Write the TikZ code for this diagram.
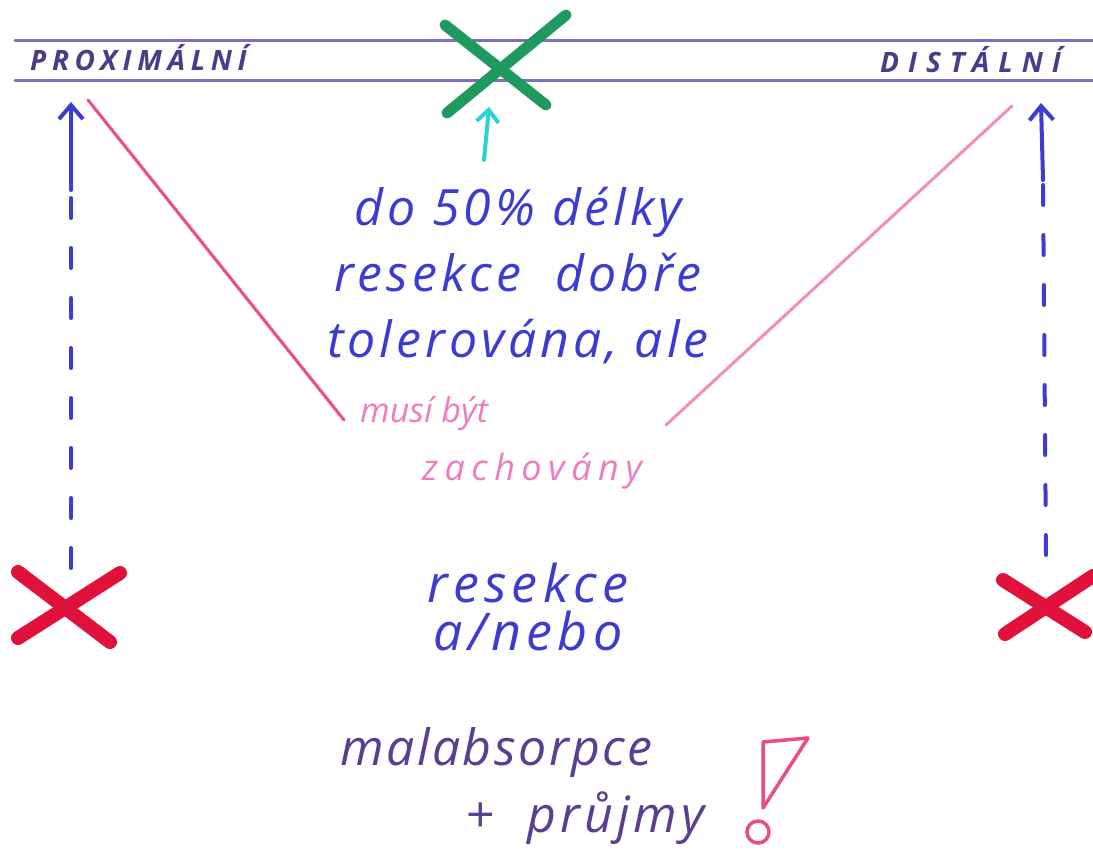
\documentclass[tikz,border=0pt]{standalone}
\usepackage{fontspec}
\setmainfont{Open Sans}
\usetikzlibrary{arrows.meta}
\definecolor{rulepurple}{HTML}{7A70BE}
\definecolor{labelpurple}{HTML}{4A3C86}
\definecolor{pengreen}{HTML}{1E9A5E}
\definecolor{pencyan}{HTML}{2CD2D6}
\definecolor{penblue}{HTML}{3C3CD2}
\definecolor{penred}{HTML}{E0123C}
\definecolor{penpink}{HTML}{EC4C86}
\definecolor{lightpink}{HTML}{F48CBC}
\definecolor{textpink}{HTML}{F07CC0}
\definecolor{textpurple}{HTML}{5A3E92}
\tikzset{
  rule/.style={draw=rulepurple, line width=3pt, line cap=round},
  caplabel/.style={font=\fontsize{28}{30}\selectfont\bfseries\itshape\addfontfeature{LetterSpace=#1}, text=labelpurple, inner sep=0pt, anchor=base west},
  bigcross/.style={line width=#1, line cap=round},
  dashshaft/.style={draw=penblue, line width=4pt, line cap=round, dash pattern=on 20pt off 30pt},
  solidshaft/.style={draw=penblue, line width=4pt, line cap=round, -{Straight Barb[length=14pt,width=24pt,line width=4pt]}},
  pinkline/.style={line width=3pt, line cap=round},
  handtext/.style={inner sep=0pt, align=center},
}
\begin{document}
\begin{tikzpicture}[x=1pt,y=-1pt]
\useasboundingbox (0,0) rectangle (1093,857);
\fill[white] (0,0) rectangle (1093,857);

% horizontal rules
\coordinate (r1a) at (15,40);  \coordinate (r1b) at (1093,40);
\coordinate (r2a) at (15,80);  \coordinate (r2b) at (1093,80);
\draw[rule] (r1a) -- (r1b);
\draw[rule] (r2a) -- (r2b);

% end labels
\node[caplabel=20] (prox) at (30,70) {PROXIMÁLNÍ};
\node[caplabel=32] (dist) at (880,72) {DISTÁLNÍ};

% green cross
\coordinate (g1a) at (445,25); \coordinate (g1b) at (546,105);
\coordinate (g2a) at (566,15); \coordinate (g2b) at (447,113);
\draw[pengreen, bigcross=11pt] (g1a) -- (g1b);
\draw[pengreen, bigcross=11pt] (g2a) -- (g2b);

% cyan arrow
\coordinate (cyanfoot) at (484,160);
\coordinate (cyantip) at (489,107);
\draw[pencyan, line width=4pt, line cap=round, -{Straight Barb[length=12pt,width=22pt,line width=4pt]}] (cyanfoot) -- (cyantip);

% blue text block
\node[handtext, text=penblue, font=\fontsize{50}{66}\selectfont\itshape\addfontfeature{LetterSpace=8}] (block) at (518,276) {do 50\% délky\\resekce\ \ dobře\\tolerována, ale};

% pink text
\node[handtext, text=textpink, font=\fontsize{34}{40}\selectfont\itshape, anchor=base west] (musi) at (360,422) {musí být};
\node[handtext, text=textpink, font=\fontsize{36}{40}\selectfont\itshape\addfontfeature{LetterSpace=18}, anchor=base west] (zach) at (422,480) {zachovány};

% pink lines
\coordinate (pl1) at (88,100);  \coordinate (pl2) at (344,420);
\coordinate (pr1) at (1012,106); \coordinate (pr2) at (666,425);
\draw[penpink, pinkline] (pl1) -- (pl2);
\draw[lightpink, pinkline] (pr1) -- (pr2);

% left dashed arrow and red cross
\coordinate (lbase) at (71,568);
\coordinate (lmid) at (71,190);
\coordinate (ltip) at (71,102);
\draw[dashshaft] (lbase) -- (lmid);
\draw[solidshaft] (lmid) -- (ltip);
\coordinate (lx1a) at (18,572); \coordinate (lx1b) at (110,642);
\coordinate (lx2a) at (120,573); \coordinate (lx2b) at (18,638);
\draw[penred, bigcross=14pt] (lx1a) -- (lx1b);
\draw[penred, bigcross=14pt] (lx2a) -- (lx2b);

% right dashed arrow and red cross
\coordinate (rbase) at (1046,555);
\coordinate (rmid) at (1043,180);
\coordinate (rtip) at (1041,103);
\draw[dashshaft] (rbase) -- (rmid);
\draw[solidshaft] (rmid) -- (rtip);
\coordinate (rx1a) at (1003,580); \coordinate (rx1b) at (1085,632);
\coordinate (rx2a) at (1093,576); \coordinate (rx2b) at (1005,634);
\draw[penred, bigcross=14pt] (rx1a) -- (rx1b);
\draw[penred, bigcross=14pt] (rx2a) -- (rx2b);

% middle text
\node[handtext, text=penblue, font=\fontsize{52}{48}\selectfont\itshape\addfontfeature{LetterSpace=10}] (res) at (528,607) {resekce\\a/nebo};

% bottom text
\node[handtext, text=textpurple, font=\fontsize{50}{60}\selectfont\itshape\addfontfeature{LetterSpace=5}, anchor=base west] (mal) at (340,765) {malabsorpce};
\node[handtext, text=textpurple, font=\fontsize{50}{60}\selectfont\itshape\addfontfeature{LetterSpace=8}, anchor=base west] (pru) at (465,832) {+\ \ průjmy};

% exclamation mark
\coordinate (ex1) at (763,742); \coordinate (ex2) at (808,738); \coordinate (ex3) at (763,808);
\draw[penpink, line width=3.5pt, line join=round] (ex1) -- (ex2) -- (ex3) -- cycle;
\node[draw=penpink, line width=3.5pt, circle, minimum size=22pt, inner sep=0pt] (dot) at (758,832) {};
\end{tikzpicture}
\end{document}
